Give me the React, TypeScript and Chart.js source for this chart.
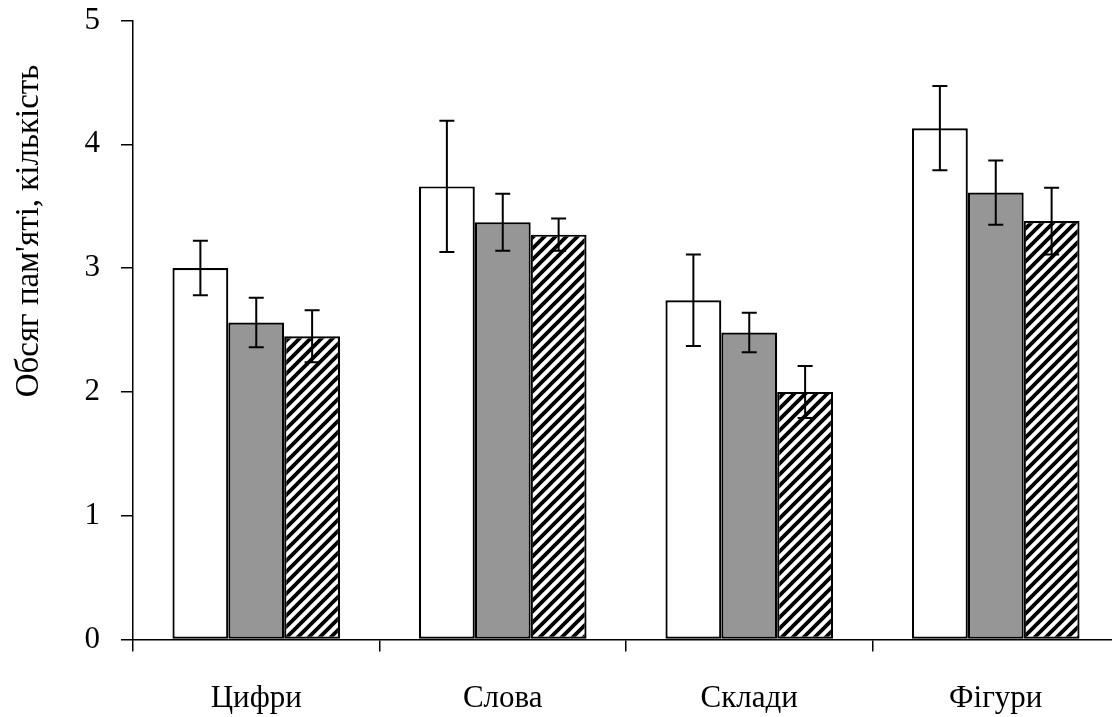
import React, { useEffect, useRef } from "react";
import { Chart, registerables } from "chart.js";

Chart.register(...registerables);

// Memory span by material type, three groups
const categories = ["Цифри", "Слова", "Склади", "Фігури"];
const groupA = [3.0, 3.66, 2.74, 4.13];
const groupB = [2.56, 3.37, 2.48, 3.61];
const groupC = [2.45, 3.27, 2.0, 3.38];
// Symmetric error (±) for each bar
const errA = [0.22, 0.53, 0.37, 0.34];
const errB = [0.2, 0.23, 0.16, 0.26];
const errC = [0.21, 0.13, 0.21, 0.27];
const yTitle = "Обсяг пам'яті, кількість";

const FONT = "'Liberation Serif', 'Times New Roman', serif";
const W = 1130;
const H = 717;

function makeHatch(): CanvasPattern | string {
  const size = 11;
  const c = document.createElement("canvas");
  c.width = size;
  c.height = size;
  const g = c.getContext("2d");
  if (!g) return "#fff";
  g.fillStyle = "#ffffff";
  g.fillRect(0, 0, size, size);
  g.strokeStyle = "#000000";
  g.lineWidth = 3.8;
  g.lineCap = "square";
  g.beginPath();
  g.moveTo(-size, 2 * size);
  g.lineTo(2 * size, -size);
  g.moveTo(-2 * size, 2 * size);
  g.lineTo(size, -size);
  g.moveTo(0, 2 * size);
  g.lineTo(3 * size, -size);
  g.stroke();
  const p = g.createPattern(c, "repeat");
  return p || "#fff";
}

const errorBars = {
  id: "errorBars",
  afterDatasetsDraw(chart: any) {
    const ctx = chart.ctx;
    const y = chart.scales.y;
    const errs = [errA, errB, errC];
    ctx.save();
    ctx.strokeStyle = "#000";
    ctx.lineWidth = 2;
    chart.data.datasets.forEach((ds: any, di: number) => {
      const meta = chart.getDatasetMeta(di);
      meta.data.forEach((bar: any, i: number) => {
        const v = ds.data[i];
        const e = errs[di][i];
        const top = y.getPixelForValue(v + e);
        const bot = y.getPixelForValue(v - e);
        const x = bar.x;
        ctx.beginPath();
        ctx.moveTo(x, top);
        ctx.lineTo(x, bot);
        ctx.moveTo(x - 7.5, top);
        ctx.lineTo(x + 7.5, top);
        ctx.moveTo(x - 7.5, bot);
        ctx.lineTo(x + 7.5, bot);
        ctx.stroke();
      });
    });
    ctx.restore();
  },
};

const axisTitle = {
  id: "axisTitle",
  afterDraw(chart: any) {
    const ctx = chart.ctx;
    ctx.save();
    ctx.translate(29, 231);
    ctx.rotate(-Math.PI / 2);
    ctx.fillStyle = "#000";
    ctx.font = `33px ${FONT}`;
    ctx.textAlign = "center";
    ctx.textBaseline = "middle";
    ctx.fillText(yTitle, 0, 0);
    ctx.restore();
  },
};

export default function App() {
  const ref = useRef<HTMLCanvasElement | null>(null);

  useEffect(() => {
    if (!ref.current) return;
    const hatch = makeHatch();
    const common = {
      borderColor: "#000",
      borderWidth: 2.2,
      borderSkipped: false as const,
      barPercentage: 1,
      categoryPercentage: 0.68,
    };
    const chart = new Chart(ref.current, {
      type: "bar",
      data: {
        labels: categories,
        datasets: [
          { ...common, label: "A", data: groupA, backgroundColor: "#ffffff" },
          { ...common, label: "B", data: groupB, backgroundColor: "#969696" },
          { ...common, label: "C", data: groupC, backgroundColor: hatch as any },
        ],
      },
      options: {
        responsive: false,
        animation: false,
        devicePixelRatio: 1,
        layout: { padding: { top: 20.5, right: 11, left: 0, bottom: 0 } },
        plugins: {
          legend: { display: false },
          tooltip: { enabled: false },
        },
        scales: {
          x: {
            grid: {
              display: true,
              drawOnChartArea: false,
              drawTicks: true,
              tickLength: 12,
              color: "#000",
              lineWidth: 1.5,
              offset: true,
            },
            border: { display: true, color: "#000", width: 1.5 },
            ticks: {
              color: "#000",
              font: { family: FONT, size: 31 },
              padding: 29,
              maxRotation: 0,
            },
            afterFit(scale: any) {
              scale.height = 77.5;
              scale.paddingLeft = 0;
              scale.paddingRight = 0;
            },
          },
          y: {
            min: 0,
            max: 5,
            grid: {
              display: true,
              drawOnChartArea: false,
              drawTicks: true,
              tickLength: 12,
              color: "#000",
              lineWidth: 1.5,
            },
            border: { display: true, color: "#000", width: 1.5 },
            ticks: {
              stepSize: 1,
              color: "#000",
              font: { family: FONT, size: 31 },
              padding: 21,
            },
            afterFit(scale: any) {
              scale.width = 133;
              scale.paddingTop = 0;
              scale.paddingBottom = 0;
            },
          },
        },
      },
      plugins: [errorBars, axisTitle],
    });
    return () => chart.destroy();
  }, []);

  return (
    <div
      style={{
        position: "fixed",
        left: 0,
        top: 0,
        width: 1112,
        height: 717,
        overflow: "hidden",
        background: "#fff",
      }}
    >
      <canvas ref={ref} width={W} height={H} style={{ width: W, height: H, display: "block" }} />
    </div>
  );
}
